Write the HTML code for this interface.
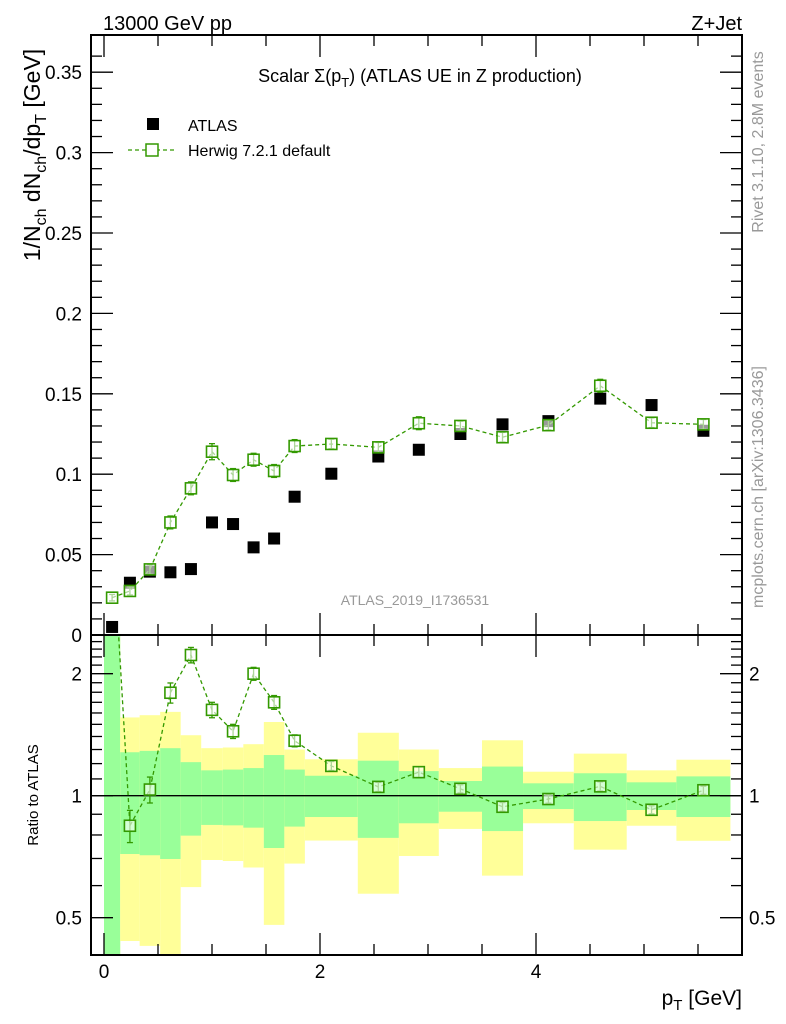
<!DOCTYPE html>
<html><head><meta charset="utf-8"><style>
html,body{margin:0;padding:0;background:#fff;}
svg{display:block;font-family:"Liberation Sans",sans-serif;}
</style></head><body>
<svg id="chart" width="786" height="1024" viewBox="0 0 786 1024" xmlns="http://www.w3.org/2000/svg">
<text x="103" y="30" font-size="20">13000 GeV pp</text>
<text x="742" y="30" font-size="20" text-anchor="end">Z+Jet</text>
<text x="420" y="82" font-size="18" text-anchor="middle">Scalar Σ(p<tspan font-size="13" dy="5">T</tspan><tspan dy="-5">) (ATLAS UE in Z production)</tspan></text>
<text x="415" y="605" font-size="14" fill="#999" text-anchor="middle">ATLAS_2019_I1736531</text>
<text transform="translate(763,142) rotate(-90)" font-size="16" fill="#999" text-anchor="middle">Rivet 3.1.10,  2.8M events</text>
<text transform="translate(763,487) rotate(-90)" font-size="16" fill="#999" text-anchor="middle">mcplots.cern.ch [arXiv:1306.3436]</text>
<text transform="translate(40,155) rotate(-90)" font-size="23" text-anchor="middle">1/N<tspan font-size="16" dy="6">ch</tspan><tspan dy="-6"> dN</tspan><tspan font-size="16" dy="6">ch</tspan><tspan dy="-6">/dp</tspan><tspan font-size="16" dy="6">T</tspan><tspan dy="-6"> [GeV]</tspan></text>
<text transform="translate(38,795) rotate(-90)" font-size="15" text-anchor="middle">Ratio to ATLAS</text>
<text x="742" y="1005" font-size="21" text-anchor="end">p<tspan font-size="15" dy="5">T</tspan><tspan dy="-5"> [GeV]</tspan></text>
<g id="legend">
<rect x="147" y="118" width="12" height="12" fill="#000"/>
<text x="188" y="131" font-size="16">ATLAS</text>
<line x1="128" y1="150" x2="175" y2="150" stroke="#339900" stroke-width="1.3" stroke-dasharray="4,3"/>
<rect x="146" y="144" width="12" height="12" fill="#fff" stroke="#339900" stroke-width="1.5"/>
<text x="188" y="156" font-size="16">Herwig 7.2.1 default</text>
</g>
</svg>
<script>
var binEdges=[0,0.15,0.33,0.52,0.71,0.9,1.1,1.29,1.48,1.67,1.86,2.35,2.73,3.1,3.5,3.88,4.35,4.84,5.3,5.8];
var atlasValues=[0.005,0.0325,0.0394,0.039,0.041,0.070,0.069,0.0545,0.060,0.086,0.1003,0.111,0.1152,0.125,0.131,0.133,0.147,0.143,0.127];
var herwigValues=[0.0232,0.0274,0.0408,0.070,0.0912,0.114,0.0995,0.109,0.102,0.1175,0.1188,0.1167,0.1317,0.130,0.123,0.1305,0.155,0.132,0.131];
var herwigErrors=[0.002,0.0025,0.003,0.004,0.004,0.005,0.004,0.004,0.004,0.004,0.003,0.003,0.004,0.003,0.003,0.003,0.004,0.003,0.003];
var greenUp=[3,1.28,1.29,1.31,1.21,1.155,1.16,1.17,1.26,1.16,1.12,1.22,1.15,1.087,1.18,1.073,1.136,1.079,1.116];
var greenDown=[0.3,0.718,0.713,0.698,0.797,0.847,0.845,0.834,0.743,0.839,0.886,0.787,0.855,0.913,0.818,0.927,0.866,0.922,0.886];
var yellowUp=[3,1.56,1.58,1.61,1.41,1.31,1.315,1.34,1.52,1.30,1.23,1.43,1.30,1.17,1.37,1.146,1.27,1.155,1.227];
var yellowDown=[0.3,0.438,0.426,0.3,0.595,0.694,0.69,0.665,0.48,0.68,0.775,0.573,0.71,0.828,0.635,0.855,0.736,0.843,0.774];
var mainTicks=[0,0.05,0.1,0.15,0.2,0.25,0.3,0.35];
var mainTickLabels=["0","0.05","0.1","0.15","0.2","0.25","0.3","0.35"];
var ratioTicks=[0.5,1,2];
var ratioTickLabels=["0.5","1","2"];
var xTicks=[0,2,4];
var xTickLabels=["0","2","4"];

var L=91,R=742,T=35,MB=635,RB=955;
function X(v){return 104+v*108;}
function Y(v){return 635-v*1608;}
function RY(v){return 795.7-Math.log2(v)*122;}
var svg=document.getElementById('chart');
var NS='http://www.w3.org/2000/svg';
function mk(tag,at,parent){var e=document.createElementNS(NS,tag);for(var k in at)e.setAttribute(k,at[k]);(parent||svg).appendChild(e);return e;}

var defs=mk('defs',{});
var cp=mk('clipPath',{id:'rc'},defs);mk('rect',{x:L,y:MB,width:R-L,height:RB-MB},cp);
var cp2=mk('clipPath',{id:'mc'},defs);mk('rect',{x:L,y:T,width:R-L,height:MB-T},cp2);

var gBands=mk('g',{'clip-path':'url(#rc)'});


for(var i=0;i<binEdges.length-1;i++){
  var x0=X(binEdges[i]),x1=X(binEdges[i+1]);
  var y=mk('rect',{x:x0,y:RY(yellowUp[i]),width:x1-x0,height:RY(yellowDown[i])-RY(yellowUp[i]),fill:'#ffff99'},gBands);
  
  
  var g=mk('rect',{x:x0,y:RY(greenUp[i]),width:x1-x0,height:RY(greenDown[i])-RY(greenUp[i]),fill:'#99ff99'},gBands);
  
  
}
var one=mk('line',{x1:L,x2:R,y1:RY(1),y2:RY(1),stroke:'#000','stroke-width':1.3});



var f1=mk('rect',{x:L,y:T,width:R-L,height:MB-T,fill:'none',stroke:'#000','stroke-width':2});


var f2=mk('rect',{x:L,y:MB,width:R-L,height:RB-MB,fill:'none',stroke:'#000','stroke-width':2});



var gt=mk('g',{stroke:'#000','stroke-width':1.3});


function tick(x1,y1,x2,y2){mk('line',{x1:x1,y1:y1,x2:x2,y2:y2},gt);}
for(var v=0;v<=0.37;v+=0.01){var yy=Y(v);var maj=Math.abs(v*20-Math.round(v*20))<1e-6;var len=maj?22:11;tick(L,yy,L+len,yy);tick(R,yy,R-len,yy);}
for(var v=0;v<=5.9;v+=0.5){var xx=X(v);var maj=Math.abs(v/2-Math.round(v/2))<1e-6;var len=maj?22:11;
 tick(xx,T,xx,T+len);tick(xx,MB,xx,MB-len);tick(xx,MB,xx,MB+len);tick(xx,RB,xx,RB-len);}
var rmin=[0.5,0.6,0.7,0.8,0.9,1,1.1,1.2,1.3,1.4,1.5,1.6,1.7,1.8,1.9,2,2.1,2.2,2.3,2.4];
rmin.forEach(function(v){var yy=RY(v);var maj=(v==0.5||v==1||v==2);var len=maj?22:11;tick(L,yy,L+len,yy);tick(R,yy,R-len,yy);});

mainTicks.forEach(function(v,i){var t=mk('text',{x:82,y:Y(v)+7,'font-size':19,'text-anchor':'end'});t.textContent=mainTickLabels[i];
 
 });
ratioTicks.forEach(function(v,i){var t=mk('text',{x:82,y:RY(v)+7,'font-size':19,'text-anchor':'end'});t.textContent=ratioTickLabels[i];
 
 
 var t2=mk('text',{x:749,y:RY(v)+7,'font-size':19});t2.textContent=ratioTickLabels[i];
 
 });
xTicks.forEach(function(v,i){var t=mk('text',{x:X(v),y:978,'font-size':19,'text-anchor':'middle'});t.textContent=xTickLabels[i];
 
 });

var green='#339900';
function series(vals,errs,yf,clip,name){
  var g=mk('g',{'clip-path':'url(#'+clip+')'});
  
  
  var pts=[];
  for(var i=0;i<vals.length;i++){pts.push(X((binEdges[i]+binEdges[i+1])/2)+','+yf(vals[i]));}
  mk('polyline',{points:pts.join(' '),fill:'none',stroke:green,'stroke-width':1.3,'stroke-dasharray':'4,3'},g);
  for(var i=0;i<vals.length;i++){
    var cx=X((binEdges[i]+binEdges[i+1])/2),cy=yf(vals[i]);
    var yt=yf(vals[i]+errs[i]),yb=yf(vals[i]-errs[i]);
    mk('line',{x1:cx,x2:cx,y1:yt,y2:yb,stroke:green,'stroke-width':1.3},g);
    mk('line',{x1:cx-3,x2:cx+3,y1:yt,y2:yt,stroke:green,'stroke-width':1.3},g);
    mk('line',{x1:cx-3,x2:cx+3,y1:yb,y2:yb,stroke:green,'stroke-width':1.3},g);
    var m=mk('rect',{x:cx-5.5,y:cy-5.5,width:11,height:11,fill:'#fff','fill-opacity':0.6,stroke:green,'stroke-width':1.6},g);
    
    
  }
}
var ga=mk('g',{'clip-path':'url(#mc)'});


for(var i=0;i<atlasValues.length;i++){
  var cx=X((binEdges[i]+binEdges[i+1])/2),cy=Y(atlasValues[i]);
  var r=mk('rect',{x:cx-6,y:cy-6,width:12,height:12,fill:'#000'},ga);
  
  
}
series(herwigValues,herwigErrors,Y,'mc','herwig-series');
var ratios=herwigValues.map(function(v,i){return v/atlasValues[i];});
var ratioErrs=herwigErrors.map(function(e,i){return e/atlasValues[i];});
series(ratios,ratioErrs,function(v){return RY(Math.max(v,0.05));},'rc','herwig-ratio-series');
</script>
</body></html>
